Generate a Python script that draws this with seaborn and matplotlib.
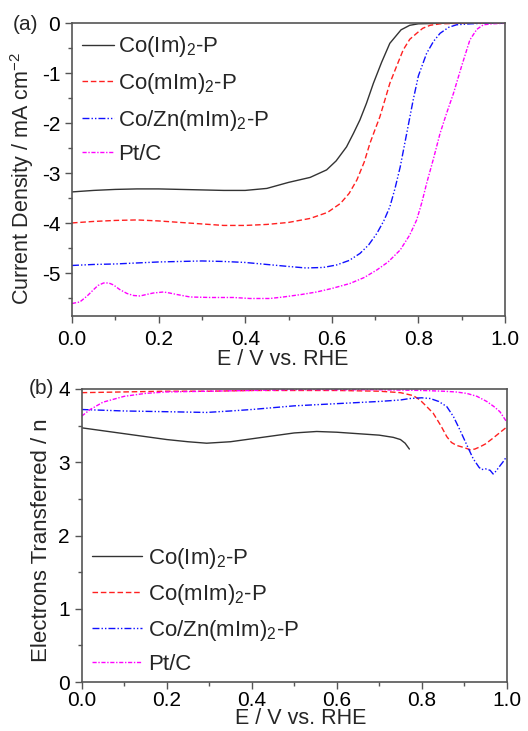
import numpy as np
import pandas as pd
import matplotlib
matplotlib.use("Agg")
import matplotlib.pyplot as plt
from matplotlib.ticker import MultipleLocator, FormatStrFormatter
import seaborn as sns

# ---------------- data: panel (a) LSV ----------------
a_im_E = [0, 0.05, 0.1, 0.15, 0.2, 0.25, 0.3, 0.35, 0.4, 0.45, 0.5, 0.55, 0.588, 0.61, 0.634, 0.65, 0.665,
          0.68, 0.696, 0.715, 0.734, 0.76, 0.78, 0.8, 0.85, 0.9, 0.95, 1.0]
a_im_j = [-3.37, -3.34, -3.32, -3.31, -3.31, -3.32, -3.33, -3.34, -3.34, -3.3, -3.18, -3.08, -2.93, -2.75,
          -2.47, -2.2, -1.93, -1.6, -1.2, -0.78, -0.40, -0.13, -0.04, -0.01, 0, 0, 0, 0]

a_mim_E = [0, 0.05, 0.1, 0.15, 0.2, 0.25, 0.3, 0.35, 0.4, 0.45, 0.5, 0.55, 0.59, 0.62, 0.64, 0.658, 0.675,
           0.688, 0.70, 0.711, 0.722, 0.734, 0.75, 0.765, 0.78, 0.796, 0.81, 0.827, 0.85, 0.9, 1.0]
a_mim_j = [-3.99, -3.96, -3.94, -3.93, -3.95, -3.98, -4.01, -4.04, -4.04, -4.02, -3.98, -3.90, -3.78, -3.60,
           -3.40, -3.13, -2.77, -2.40, -2.12, -1.87, -1.55, -1.20, -0.85, -0.53, -0.32, -0.20, -0.10, -0.04,
           -0.01, 0, 0]

a_cozn_E = [0, 0.05, 0.1, 0.15, 0.2, 0.25, 0.3, 0.35, 0.4, 0.45, 0.5, 0.54, 0.58, 0.611, 0.64, 0.665, 0.685,
            0.704, 0.72, 0.734, 0.746, 0.758, 0.773, 0.788, 0.80, 0.819, 0.835, 0.850, 0.87, 0.888, 0.92, 0.95, 1.0]
a_cozn_j = [-4.84, -4.82, -4.81, -4.79, -4.77, -4.76, -4.75, -4.76, -4.78, -4.82, -4.86, -4.89, -4.88, -4.83,
            -4.74, -4.60, -4.43, -4.20, -3.95, -3.67, -3.30, -2.87, -2.20, -1.53, -1.05, -0.60, -0.36, -0.20,
            -0.08, -0.03, -0.01, 0, 0]

a_pt_E = [0, 0.018, 0.035, 0.049, 0.06, 0.073, 0.085, 0.096, 0.11, 0.127, 0.142, 0.157, 0.172, 0.188, 0.2,
          0.211, 0.225, 0.242, 0.273, 0.32, 0.373, 0.411, 0.457, 0.488, 0.53, 0.565, 0.60, 0.642, 0.675, 0.704,
          0.73, 0.758, 0.78, 0.796, 0.808, 0.819, 0.835, 0.850, 0.865, 0.881, 0.90, 0.919, 0.935, 0.950, 0.97, 1.0]
a_pt_j = [-5.60, -5.57, -5.45, -5.33, -5.24, -5.19, -5.19, -5.23, -5.32, -5.40, -5.44, -5.45, -5.42, -5.39,
          -5.38, -5.37, -5.39, -5.42, -5.47, -5.48, -5.48, -5.50, -5.50, -5.47, -5.42, -5.37, -5.30, -5.20,
          -5.08, -4.93, -4.77, -4.53, -4.23, -3.93, -3.58, -3.20, -2.70, -2.20, -1.80, -1.40, -0.85, -0.33,
          -0.12, -0.03, -0.01, 0]

# ---------------- data: panel (b) electron transfer number ----------------
b_im_E = [0, 0.05, 0.1, 0.15, 0.2, 0.25, 0.294, 0.35, 0.4, 0.45, 0.5, 0.553, 0.6, 0.65, 0.7, 0.733, 0.75,
          0.761, 0.771]
b_im_n = [3.47, 3.43, 3.39, 3.35, 3.31, 3.28, 3.26, 3.28, 3.32, 3.36, 3.40, 3.42, 3.41, 3.39, 3.37, 3.34,
          3.31, 3.26, 3.18]

b_mim_E = [0, 0.1, 0.2, 0.3, 0.4, 0.5, 0.6, 0.7, 0.75, 0.78, 0.796, 0.81, 0.827, 0.845, 0.859, 0.87, 0.882,
           0.9, 0.914, 0.925, 0.937, 0.95, 0.968, 0.985, 1.0]
b_mim_n = [3.95, 3.96, 3.97, 3.97, 3.98, 3.98, 3.98, 3.97, 3.95, 3.91, 3.85, 3.77, 3.67, 3.50, 3.35, 3.27,
           3.23, 3.20, 3.17, 3.18, 3.21, 3.25, 3.33, 3.41, 3.48]

b_cozn_E = [0, 0.05, 0.1, 0.2, 0.294, 0.35, 0.4, 0.5, 0.6, 0.7, 0.75, 0.772, 0.80, 0.82, 0.84, 0.859, 0.875,
            0.89, 0.905, 0.921, 0.935, 0.941, 0.95, 0.961, 0.968, 0.975, 0.984, 0.992, 1.0]
b_cozn_n = [3.72, 3.71, 3.70, 3.69, 3.68, 3.70, 3.72, 3.77, 3.80, 3.83, 3.85, 3.87, 3.88, 3.87, 3.83, 3.76,
            3.62, 3.44, 3.25, 3.05, 2.93, 2.90, 2.91, 2.89, 2.84, 2.88, 2.95, 3.01, 3.08]

b_pt_E = [0, 0.02, 0.05, 0.1, 0.15, 0.2, 0.3, 0.4, 0.5, 0.6, 0.7, 0.8, 0.85, 0.88, 0.906, 0.93, 0.953, 0.97,
          0.984, 1.0]
b_pt_n = [3.63, 3.72, 3.82, 3.90, 3.94, 3.96, 3.97, 3.98, 3.99, 3.99, 3.99, 3.98, 3.97, 3.96, 3.94, 3.90,
          3.83, 3.76, 3.69, 3.55]

labels = ["Co(Im)$_2$-P", "Co(mIm)$_2$-P", "Co/Zn(mIm)$_2$-P", "Pt/C"]
colors = ["#333333", "#FF2020", "#1010FF", "#FF00FF"]
styles = ["-", (0, (4, 2)), (0, (5, 1.5, 1, 1.5, 1, 1.5)), (0, (3, 1.2, 1, 1.2))]

sns.set_style("ticks")
plt.rcParams["font.family"] = ["Liberation Sans", "DejaVu Sans"]
plt.rcParams["mathtext.default"] = "regular"
plt.rcParams["axes.unicode_minus"] = False

fig = plt.figure(figsize=(5.28, 7.31), dpi=100)
ax1 = fig.add_axes([72 / 528, 1 - 316 / 731, 433 / 528, (316 - 23.3) / 731])
ax2 = fig.add_axes([81.7 / 528, 1 - 682 / 731, 425 / 528, (682 - 389) / 731])

fs_tick = 15
fs_lab = 15.5
fs_leg = 16
spine_col = "#555555"

series_a = [(a_im_E, a_im_j), (a_mim_E, a_mim_j), (a_cozn_E, a_cozn_j), (a_pt_E, a_pt_j)]
series_b = [(b_im_E, b_im_n), (b_mim_E, b_mim_n), (b_cozn_E, b_cozn_n), (b_pt_E, b_pt_n)]

for ax, series, xpad in [(ax1, series_a, 5.0), (ax2, series_b, 1.5)]:
    for (x, y), lab, c, ls in zip(series, labels, colors, styles):
        df = pd.DataFrame({"E": x, "v": y})
        sns.lineplot(data=df, x="E", y="v", ax=ax, color=c, linestyle=ls, linewidth=1.0,
                     label=lab, sort=False)
    ax.set_xlim(0, 1.0)
    ax.xaxis.set_major_locator(MultipleLocator(0.2))
    ax.xaxis.set_minor_locator(MultipleLocator(0.1))
    ax.yaxis.set_major_locator(MultipleLocator(1))
    ax.yaxis.set_minor_locator(MultipleLocator(0.5))
    ax.xaxis.set_major_formatter(FormatStrFormatter("%.1f"))
    ax.tick_params(which="major", direction="out", length=5, width=1, colors=spine_col,
                   labelcolor="black", labelsize=fs_tick, top=False, right=False)
    ax.tick_params(which="minor", direction="out", length=3, width=1, colors=spine_col,
                   top=False, right=False)
    ax.tick_params(axis="x", which="major", pad=xpad)
    ax.tick_params(axis="y", which="major", pad=3.5)
    for s in ax.spines.values():
        s.set_color(spine_col)
        s.set_linewidth(1.2)
    ax.set_xlabel("E / V vs. RHE", fontsize=fs_lab)

ax1.set_ylim(-5.85, 0)
ax2.set_ylim(0, 4)
ax1.set_ylabel("Current Density / mA cm$^{-2}$", fontsize=15.5)
ax2.set_ylabel("Electrons Transferred / n", fontsize=16)

ax1.xaxis.set_label_coords(0.486, -0.1127)
ax2.xaxis.set_label_coords(0.515, -0.090)
ax1.yaxis.set_label_coords(-0.082, 0.471)
ax2.yaxis.set_label_coords(-0.071, 0.485)

ax1.legend(loc="upper left", bbox_to_anchor=(0.023, 0.962), frameon=False, fontsize=fs_leg,
           handlelength=1.44, handletextpad=0.17, labelspacing=0.52, borderaxespad=0, borderpad=0)
ax2.legend(loc="upper left", bbox_to_anchor=(0.024, 0.465), frameon=False, fontsize=fs_leg,
           handlelength=2.25, handletextpad=0.27, labelspacing=0.5, borderaxespad=0, borderpad=0)

fig.text(25 / 528, 1 - 24 / 731, "(a)", fontsize=15, va="center", ha="center")
fig.text(41 / 528, 1 - 389 / 731, "(b)", fontsize=15, va="center", ha="center")

fig.savefig("out.png", dpi=100)
